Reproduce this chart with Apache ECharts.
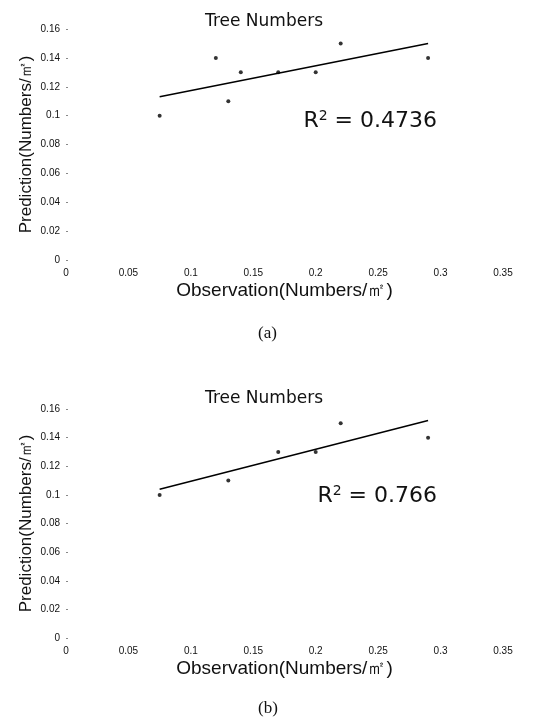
<!DOCTYPE html>
<html>
<head>
<meta charset="utf-8">
<script src="https://cdn.jsdelivr.net/npm/echarts@6/dist/echarts.min.js"></script>
<style>
  html, body { margin: 0; padding: 0; background: #fff; }
  #chart { width: 542px; height: 720px; }
</style>
</head>
<body>
<div id="chart"></div>
<script>
// 观测值 / 预测值 (a)
const obsA = [0.075, 0.12, 0.13, 0.14, 0.17, 0.2, 0.22, 0.29];
const predA = [0.10, 0.14, 0.11, 0.13, 0.13, 0.13, 0.15, 0.14];
// 趋势线端点 (a)
const trendXA = [0.075, 0.29];
const trendYA = [0.113, 0.150];

// 观测值 / 预测值 (b)
const obsB = [0.075, 0.13, 0.17, 0.2, 0.22, 0.29];
const predB = [0.10, 0.11, 0.13, 0.13, 0.15, 0.14];
// 趋势线端点 (b)
const trendXB = [0.075, 0.29];
const trendYB = [0.104, 0.152];

const titles = ["Tree Numbers", "Tree Numbers"];
const r2Labels = ["0.4736", "0.766"];
const captions = ["(a)", "(b)"];

const sans = "Liberation Sans";
const wide = "DejaVu Sans";
const zip = (xs, ys) => xs.map((x, i) => [x, ys[i]]);

const myChart = echarts.init(document.getElementById("chart"));

const xAxisBase = (gridIndex) => ({
  type: "value",
  gridIndex,
  min: 0,
  max: 0.35,
  interval: 0.05,
  name: "Observation(Numbers/㎡)",
  nameLocation: "middle",
  nameGap: 21,
  nameTextStyle: { fontFamily: sans, fontSize: 19, color: "#111" },
  axisLine: { show: false },
  axisTick: { show: false },
  splitLine: { show: false },
  axisLabel: {
    fontFamily: sans,
    fontSize: 10,
    color: "#111",
    margin: 8,
  },
});

const yAxisBase = (gridIndex) => ({
  type: "value",
  gridIndex,
  min: 0,
  max: 0.16,
  interval: 0.02,
  name: "Prediction(Numbers/㎡)",
  nameLocation: "middle",
  nameGap: 31,
  nameMoveOverlap: false,
  nameTextStyle: { fontFamily: sans, fontSize: 17, color: "#111" },
  axisLine: { show: false },
  axisTick: {
    show: true,
    inside: true,
    length: 2,
    lineStyle: { color: "#888" },
  },
  splitLine: { show: false },
  axisLabel: {
    fontFamily: sans,
    fontSize: 10,
    color: "#111",
    margin: 6,
  },
});

const scatter = (idx, data) => ({
  type: "scatter",
  xAxisIndex: idx,
  yAxisIndex: idx,
  symbol: "circle",
  symbolSize: 4,
  itemStyle: { color: "#000" },
  data,
});

const trend = (idx, data) => ({
  type: "line",
  xAxisIndex: idx,
  yAxisIndex: idx,
  showSymbol: false,
  lineStyle: { color: "#000", width: 1.5 },
  data,
});

const r2Text = (value, right, top) => ({
  type: "text",
  right,
  top,
  style: {
    text: "R{sup|2} = " + value,
    fontFamily: wide,
    fontSize: 22,
    fill: "#111",
    rich: {
      sup: { fontFamily: wide, fontSize: 14, verticalAlign: "top", padding: [0, 0, 10, 0] },
    },
  },
});

const titleStyle = { fontFamily: wide, fontSize: 17, fontWeight: "normal", color: "#111" };

const option = {
  animation: false,
  backgroundColor: "#fff",
  title: [
    { text: titles[0], left: 259, top: 8, textAlign: "center", textStyle: titleStyle },
    { text: titles[1], left: 259, top: 385, textAlign: "center", textStyle: titleStyle },
  ],
  grid: [
    { left: 66, right: 39, top: 29, height: 231 },
    { left: 66, right: 39, top: 409, height: 229 },
  ],
  xAxis: [xAxisBase(0), xAxisBase(1)],
  yAxis: [yAxisBase(0), yAxisBase(1)],
  series: [
    scatter(0, zip(obsA, predA)),
    trend(0, zip(trendXA, trendYA)),
    scatter(1, zip(obsB, predB)),
    trend(1, zip(trendXB, trendYB)),
  ],
  graphic: [
    r2Text(r2Labels[0], 105, 109),
    r2Text(r2Labels[1], 105, 484),
    {
      type: "text",
      left: 258,
      top: 325,
      style: { text: captions[0], fontFamily: "Liberation Serif", fontSize: 17, fill: "#111" },
    },
    {
      type: "text",
      left: 258,
      top: 700,
      style: { text: captions[1], fontFamily: "Liberation Serif", fontSize: 17, fill: "#111" },
    },
  ],
};

myChart.setOption(option);
</script>
</body>
</html>
